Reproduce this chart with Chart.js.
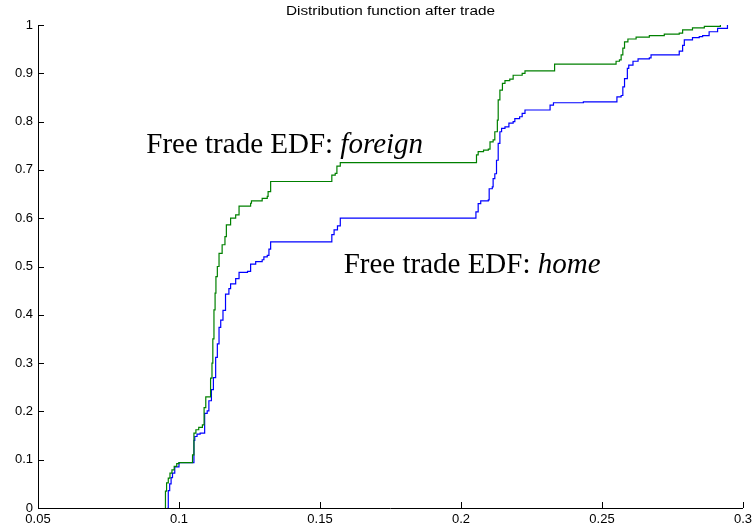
<!DOCTYPE html>
<html>
<head>
<meta charset="utf-8">
<title>Distribution function after trade</title>
<script src="https://cdn.jsdelivr.net/npm/chart.js@4.4.1/dist/chart.umd.min.js"></script>
<style>
    body { margin: 0; background: #fff; }
    #wrap { width: 756px; height: 529px; }
</style>
</head>
<body>
<div id="wrap"><canvas id="myChart" width="756" height="529"></canvas></div>
<script>
    // step points of the two EDFs (x where the jump happens, level after it)
    var foreignX = [0.0950, 0.0952, 0.0956, 0.0962, 0.0968, 0.0975, 0.0983, 0.0992, 0.1000, 0.1048, 0.1053,
        0.1060, 0.1070, 0.1083, 0.1089, 0.1095, 0.1112, 0.1117, 0.1120, 0.1124, 0.1128, 0.1131, 0.1136,
        0.1142, 0.1153, 0.1163, 0.1168, 0.1183, 0.1201, 0.1213, 0.1254, 0.1257, 0.1295, 0.1313, 0.1316,
        0.1325, 0.1542, 0.1554, 0.1560, 0.1572, 0.2055, 0.2061, 0.2080, 0.2097, 0.2103, 0.2114, 0.2120,
        0.2129, 0.2132, 0.2138, 0.2147, 0.2156, 0.2173, 0.2185, 0.2217, 0.2227, 0.2332, 0.2550, 0.2562,
        0.2568, 0.2574, 0.2580, 0.2592, 0.2621, 0.2668, 0.2721, 0.2774, 0.2786, 0.2821, 0.2863, 0.2920];
    var foreignY = [0, 0.035, 0.052, 0.062, 0.072, 0.079, 0.086, 0.092, 0.094, 0.110, 0.155,
        0.162, 0.167, 0.172, 0.208, 0.230, 0.269, 0.300, 0.350, 0.410, 0.445, 0.479, 0.500,
        0.527, 0.545, 0.562, 0.586, 0.600, 0.607, 0.625, 0.631, 0.636, 0.641, 0.645, 0.655,
        0.676, 0.689, 0.693, 0.708, 0.715, 0.731, 0.738, 0.741, 0.743, 0.758, 0.762, 0.779,
        0.803, 0.845, 0.865, 0.879, 0.885, 0.888, 0.896, 0.900, 0.905, 0.919, 0.925, 0.928,
        0.938, 0.952, 0.965, 0.971, 0.975, 0.978, 0.981, 0.983, 0.990, 0.994, 0.997, 1.000];

    var homeX = [0.0959, 0.0962, 0.0967, 0.0972, 0.0977, 0.0985, 0.1000, 0.1053, 0.1056, 0.1064, 0.1075,
        0.1091, 0.1100, 0.1106, 0.1115, 0.1122, 0.1130, 0.1136, 0.1142, 0.1148, 0.1156, 0.1165, 0.1177,
        0.1183, 0.1201, 0.1213, 0.1243, 0.1254, 0.1272, 0.1295, 0.1301, 0.1313, 0.1319, 0.1325, 0.1542,
        0.1550, 0.1562, 0.1572, 0.2053, 0.2061, 0.2070, 0.2097, 0.2100, 0.2111, 0.2114, 0.2120, 0.2126,
        0.2132, 0.2138, 0.2144, 0.2156, 0.2170, 0.2185, 0.2191, 0.2208, 0.2217, 0.2227, 0.2316, 0.2328,
        0.2434, 0.2553, 0.2568, 0.2574, 0.2580, 0.2590, 0.2595, 0.2610, 0.2628, 0.2668, 0.2674, 0.2774,
        0.2786, 0.2792, 0.2821, 0.2845, 0.2857, 0.2880, 0.2910, 0.2945];
    var homeY = [0, 0.036, 0.050, 0.063, 0.072, 0.085, 0.094, 0.140, 0.148, 0.153, 0.155,
        0.196, 0.201, 0.222, 0.245, 0.270, 0.312, 0.340, 0.374, 0.389, 0.409, 0.443, 0.454,
        0.464, 0.475, 0.488, 0.490, 0.505, 0.510, 0.514, 0.520, 0.523, 0.536, 0.551, 0.566,
        0.576, 0.584, 0.600, 0.613, 0.630, 0.636, 0.638, 0.661, 0.665, 0.682, 0.692, 0.720,
        0.755, 0.779, 0.786, 0.789, 0.797, 0.800, 0.806, 0.810, 0.817, 0.824, 0.834, 0.839,
        0.841, 0.851, 0.854, 0.872, 0.889, 0.910, 0.917, 0.925, 0.930, 0.932, 0.938, 0.946,
        0.958, 0.969, 0.974, 0.976, 0.978, 0.986, 0.993, 1.000];

    var xRange = [0.05, 0.3];
    var yRange = [0, 1];
    var xStep = 0.05;
    var yStep = 0.1;

    var titleText = 'Distribution function after trade';
    var labels = [
        { plain: 'Free trade EDF: ', italic: 'foreign', x: 0.0884, y: 0.735 },
        { plain: 'Free trade EDF: ', italic: 'home', x: 0.1584, y: 0.486 }
    ];

    function toPoints(xs, ys) {
        return xs.map(function (x, i) { return { x: x, y: ys[i] }; });
    }

    // 0.10 -> "0.1", 1.0 -> "1"
    function shortNum(v) {
        return String(parseFloat(v.toFixed(2)));
    }

    // matlab style: ticks pointing into the plot, title over the axes, text labels
    var matlabLook = {
        id: 'matlabLook',
        afterDraw: function (chart) {
            var ctx = chart.ctx;
            var sx = chart.scales.x, sy = chart.scales.y;
            var len = 6;
            ctx.save();
            ctx.strokeStyle = '#000';
            ctx.lineWidth = 1;
            ctx.beginPath();
            sx.ticks.forEach(function (t) {
                var px = Math.round(sx.getPixelForValue(t.value)) + 0.5;
                ctx.moveTo(px, sy.bottom);
                ctx.lineTo(px, sy.bottom - len);
            });
            sy.ticks.forEach(function (t) {
                var py = Math.round(sy.getPixelForValue(t.value)) + 0.5;
                ctx.moveTo(sx.left, py);
                ctx.lineTo(sx.left + len, py);
            });
            ctx.stroke();

            // title, a bit wide like the original bitmap font
            ctx.fillStyle = '#000';
            ctx.font = '12px "Liberation Sans", Arial, sans-serif';
            ctx.textAlign = 'center';
            ctx.textBaseline = 'middle';
            ctx.save();
            ctx.translate((chart.chartArea.left + chart.chartArea.right) / 2, 12);
            ctx.scale(1.28, 1);
            ctx.fillText(titleText, 0, 0);
            ctx.restore();

            ctx.textBaseline = 'alphabetic';
            ctx.textAlign = 'left';
            labels.forEach(function (l) {
                var px = sx.getPixelForValue(l.x);
                var py = sy.getPixelForValue(l.y);
                ctx.font = '29px "Liberation Serif", "Times New Roman", serif';
                ctx.fillText(l.plain, px, py);
                var w = ctx.measureText(l.plain).width;
                ctx.font = 'italic 29px "Liberation Serif", "Times New Roman", serif';
                ctx.fillText(l.italic, px + w, py);
            });
            ctx.restore();
        }
    };

    const ctx = document.getElementById('myChart');
    var xx = new Chart(ctx, {
        type: 'line',
        data: {
            datasets: [
                {
                    label: 'foreign',
                    data: toPoints(foreignX, foreignY),
                    borderColor: 'rgb(0, 128, 0)',
                    borderWidth: 1.2,
                    pointRadius: 0,
                    stepped: true,
                    fill: false
                },
                {
                    label: 'home',
                    data: toPoints(homeX, homeY),
                    borderColor: 'rgb(0, 0, 255)',
                    borderWidth: 1.2,
                    pointRadius: 0,
                    stepped: true,
                    fill: false
                }
            ]
        },
        options: {
            responsive: false,
            animation: false,
            devicePixelRatio: 1,
            layout: { padding: { left: 0, right: 4, top: 25, bottom: 0 } },
            plugins: {
                legend: { display: false },
                tooltip: { enabled: false },
                title: { display: false }
            },
            scales: {
                x: {
                    type: 'linear',
                    min: xRange[0],
                    max: xRange[1],
                    grid: { display: false, drawTicks: false },
                    border: { display: true, color: '#000', width: 1 },
                    ticks: {
                        stepSize: xStep,
                        color: '#000',
                        padding: 4,
                        maxRotation: 0,
                        font: { family: '"Liberation Sans", Arial, sans-serif', size: 13 },
                        callback: function (v) { return shortNum(v); }
                    },
                    afterFit: function (scale) { scale.height = 21; }
                },
                y: {
                    type: 'linear',
                    min: yRange[0],
                    max: yRange[1],
                    grid: { display: false, drawTicks: false },
                    border: { display: true, color: '#000', width: 1 },
                    ticks: {
                        stepSize: yStep,
                        color: '#000',
                        padding: 5,
                        font: { family: '"Liberation Sans", Arial, sans-serif', size: 13 },
                        callback: function (v) { return shortNum(v); }
                    },
                    afterFit: function (scale) { scale.width = 38; }
                }
            }
        },
        plugins: [matlabLook]
    });
</script>
</body>
</html>
